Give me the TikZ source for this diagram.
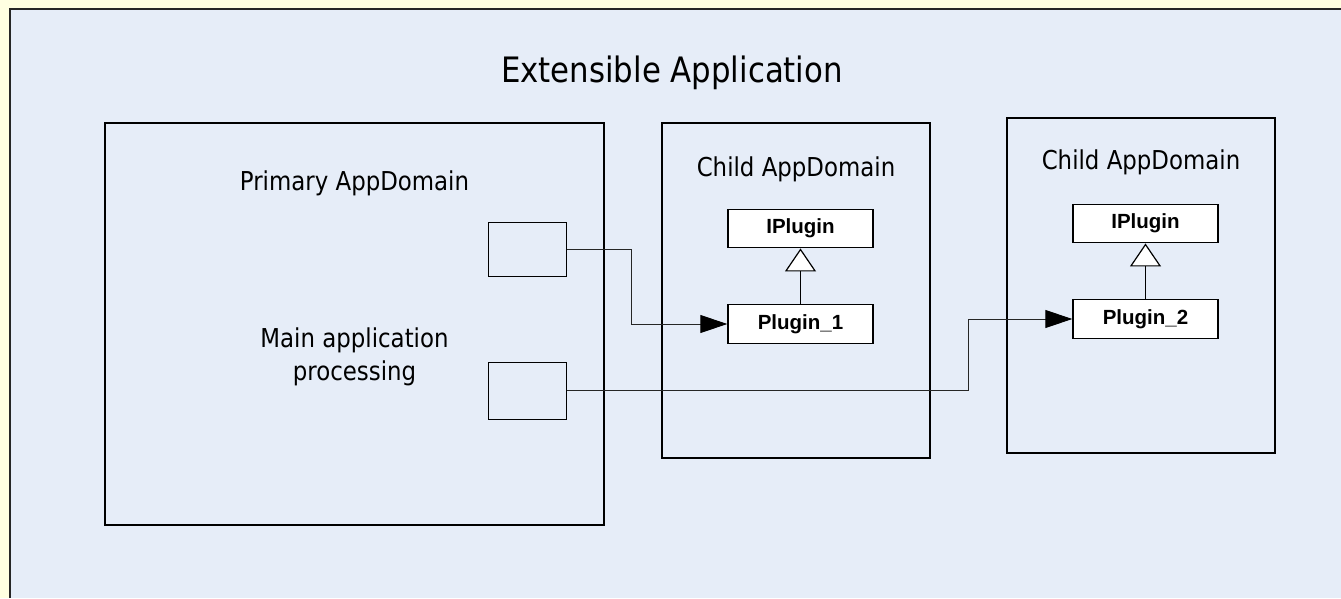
\documentclass[tikz,border=0pt]{standalone}
\usepackage{fontspec}
\usepackage{tikz}
\usetikzlibrary{arrows.meta, positioning}
\newfontfamily\tahomafont{DejaVu Sans}[FakeStretch=0.88]
\newfontfamily\arialfont{Liberation Sans}
\definecolor{panelblue}{RGB}{230,237,248}
\definecolor{pageyellow}{RGB}{255,255,225}

\tikzset{
  domainbox/.style={draw=black, line width=1.1pt, inner sep=0pt},
  portbox/.style={draw=black, line width=1pt, inner sep=0pt, minimum width=78pt},
  classbox/.style={draw=black, fill=white, line width=1.4pt, inner sep=0pt,
    minimum width=145pt, minimum height=38.5pt,
    font=\arialfont\bfseries\fontsize{20.5}{24}\selectfont},
  domaintext/.style={font=\tahomafont\fontsize{26}{33}\selectfont, align=center},
  calls/.style={draw=black!85, line width=1pt, -{Triangle[length=27pt, width=18pt, color=black]}},
  inherits/.style={draw=black, line width=1.2pt, -{Triangle[length=23pt, width=31pt, fill=white]}},
}

\begin{document}
\begin{tikzpicture}[x=1pt, y=-1pt]
	\useasboundingbox[fill=pageyellow] (0,0) rectangle (1341,598);
	\fill[panelblue] (9,8) rectangle (1341,598);
	\draw[black!85, line width=1.6pt] (9.8,598) |- (1341,8.8);

	\node[font=\tahomafont\fontsize{35}{42}\selectfont, anchor=base] (title) at (672,82) {Extensible Application};

	% primary domain
	\node[domainbox, minimum width=499pt, minimum height=402pt] (primary) at (354.5,324) {};
	\node[domaintext, anchor=base] (primarytext) at (354.5,190) {Primary AppDomain};
	\node[domaintext] (maintext) at (354.5,357) {Main application\\processing};
	\node[portbox, minimum height=54pt] (port1) at (527,249) {};
	\node[portbox, minimum height=57pt] (port2) at (527,390.5) {};

	% child domains
	\node[domainbox, minimum width=268pt, minimum height=335pt] (child1) at (796,290.5) {};
	\node[domaintext, anchor=base] (child1text) at (796,176) {Child AppDomain};
	\node[classbox] (iplugin1) at (800.5,228.5) {IPlugin};
	\node[classbox] (plugin1) at (800.5,324) {Plugin\_1};

	\node[domainbox, minimum width=268pt, minimum height=335pt] (child2) at (1141,285.5) {};
	\node[domaintext, anchor=base] (child2text) at (1141,169) {Child AppDomain};
	\node[classbox] (iplugin2) at (1145.5,223.5) {IPlugin};
	\node[classbox] (plugin2) at (1145.5,319) {Plugin\_2};

	\draw[inherits] (plugin1) -- (iplugin1);
	\draw[inherits] (plugin2) -- (iplugin2);

	\draw[calls] (port1.east) -- ++(65,0) |- (plugin1.west);
	\draw[calls] (port2.east) -- ++(402,0) |- (plugin2.west);
\end{tikzpicture}
\end{document}
